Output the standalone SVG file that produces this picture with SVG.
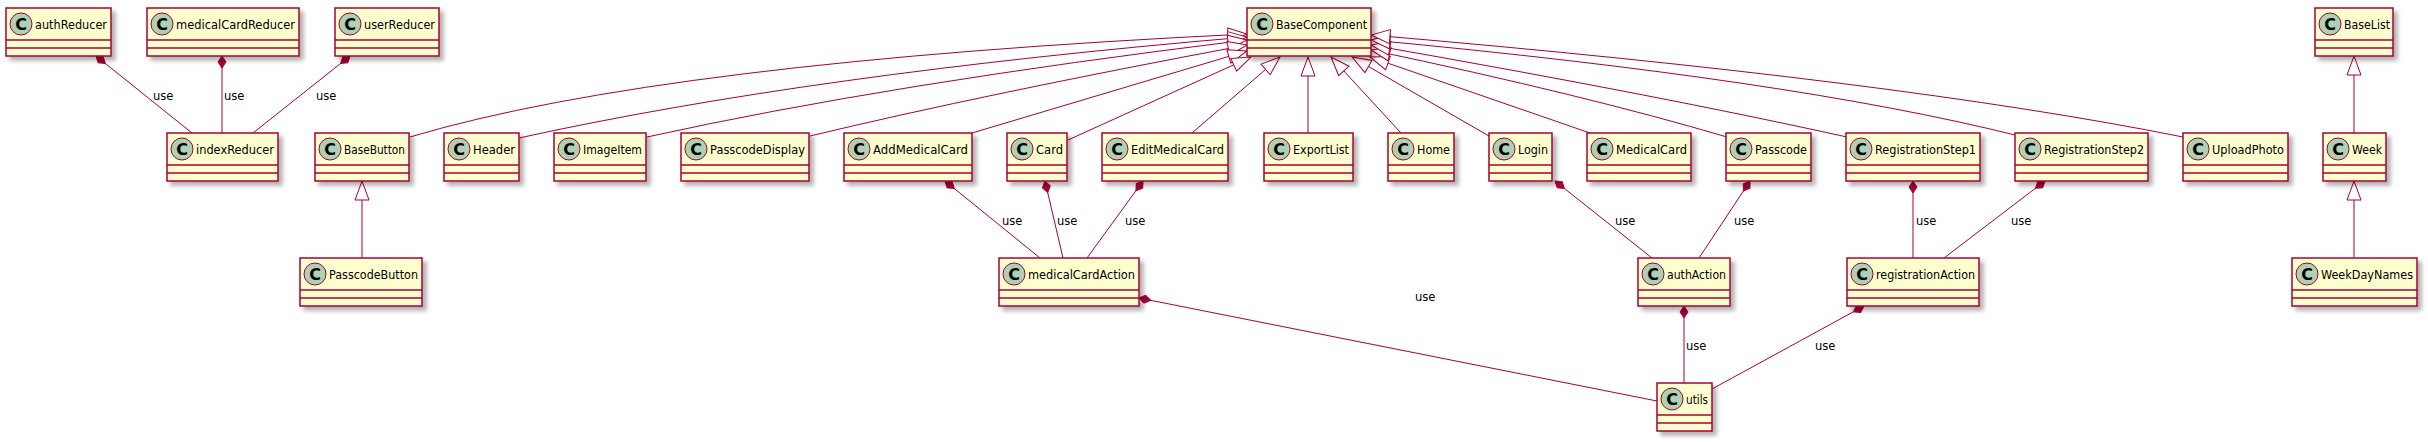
<svg xmlns="http://www.w3.org/2000/svg" width="2428" height="442" viewBox="0 0 2428 442">
<defs>
<style>
.box{fill:#FEFECE;stroke:#A80036;stroke-width:1.5;filter:url(#sh)}
.sep{stroke:#A80036;stroke-width:1.5}
.ci{fill:#ADD1B2;stroke:#A80036;stroke-width:1}
.cl{font-family:"DejaVu Sans",sans-serif;font-size:16px;font-weight:bold;fill:#000;text-anchor:middle}
.nm{font-family:"DejaVu Sans",sans-serif;font-size:11.5px;fill:#000}
.lb{font-family:"DejaVu Sans",sans-serif;font-size:11.5px;fill:#000}
.inh{fill:none;stroke:#A80036;stroke-width:1;marker-end:url(#tri)}
.cmp{fill:none;stroke:#A80036;stroke-width:1;marker-start:url(#dia)}
</style>
<filter id="sh" x="-10%" y="-10%" width="130%" height="140%">
<feDropShadow dx="4" dy="4" stdDeviation="2" flood-color="#000" flood-opacity="0.3"/>
</filter>
<marker id="tri" markerUnits="userSpaceOnUse" viewBox="-1 -9 22 18" refX="19" refY="0" markerWidth="22" markerHeight="18" orient="auto">
<path d="M0,-7 L19,0 L0,7 Z" fill="#FFFFFF" stroke="#A80036" stroke-width="1"/>
</marker>
<marker id="dia" markerUnits="userSpaceOnUse" viewBox="-1 -6 15 12" refX="0" refY="0" markerWidth="15" markerHeight="12" orient="auto">
<path d="M0,0 L6,-4 L12,0 L6,4 Z" fill="#A80036" stroke="#A80036" stroke-width="1"/>
</marker>
</defs>
<rect width="2428" height="442" fill="#FFFFFF"/>

<g id="connectors">
<path class="inh" d="M410,137 Q661,62 1247,34"/>
<path class="inh" d="M519,138 Q810,74 1247,37"/>
<path class="inh" d="M647,137 Q887,84 1247,40"/>
<path class="inh" d="M810,136 Q985,94 1247,45"/>
<path class="inh" d="M972,133 L1247,51"/>
<path class="inh" d="M1068,140 L1251,57"/>
<path class="inh" d="M1192,133 L1280,57"/>
<path class="inh" d="M1308,133 L1308,57"/>
<path class="inh" d="M1401,133 L1331,57"/>
<path class="inh" d="M1489,136 L1352,57"/>
<path class="inh" d="M1590,133 L1370,57"/>
<path class="inh" d="M1727,137 Q1585,95 1371,50"/>
<path class="inh" d="M1847,137 Q1657,95 1371,45"/>
<path class="inh" d="M2015,135 Q1790,79 1371,40"/>
<path class="inh" d="M2183,137 Q1899,80 1371,35"/>
<path class="inh" d="M362,258 L362,181"/>
<path class="inh" d="M2354,133 L2354,56"/>
<path class="inh" d="M2354,258 L2354,181"/>

<path class="cmp" d="M96,56 L192,133"/>
<path class="cmp" d="M222,56 L222,133"/>
<path class="cmp" d="M350,56 L253,133"/>
<path class="cmp" d="M945,181 L1040,258"/>
<path class="cmp" d="M1045,181 L1063,258"/>
<path class="cmp" d="M1143,181 L1087,258"/>
<path class="cmp" d="M1555,181 L1652,258"/>
<path class="cmp" d="M1750,181 L1699,258"/>
<path class="cmp" d="M1913,181 L1913,258"/>
<path class="cmp" d="M2045,181 L1944,258"/>
<path class="cmp" d="M1139,298 L1657,401"/>
<path class="cmp" d="M1684,306 L1684,383"/>
<path class="cmp" d="M1864,306 L1712,389"/>

<text class="lb" x="153" y="100">use</text>
<text class="lb" x="224" y="100">use</text>
<text class="lb" x="316" y="100">use</text>
<text class="lb" x="1002" y="225">use</text>
<text class="lb" x="1057" y="225">use</text>
<text class="lb" x="1125" y="225">use</text>
<text class="lb" x="1615" y="225">use</text>
<text class="lb" x="1734" y="225">use</text>
<text class="lb" x="1916" y="225">use</text>
<text class="lb" x="2011" y="225">use</text>
<text class="lb" x="1415" y="301">use</text>
<text class="lb" x="1686" y="350">use</text>
<text class="lb" x="1815" y="350">use</text>
</g>

<g id="authReducer"><rect class="box" x="6" y="8" width="105" height="48"/><line class="sep" x1="6" y1="40" x2="111" y2="40"/><line class="sep" x1="6" y1="48" x2="111" y2="48"/><circle class="ci" cx="21" cy="24" r="11"/><text class="cl" x="21" y="30">C</text><text class="nm" x="35" y="29" textLength="72" lengthAdjust="spacingAndGlyphs">authReducer</text></g>
<g id="medicalCardReducer"><rect class="box" x="147" y="8" width="152" height="48"/><line class="sep" x1="147" y1="40" x2="299" y2="40"/><line class="sep" x1="147" y1="48" x2="299" y2="48"/><circle class="ci" cx="162" cy="24" r="11"/><text class="cl" x="162" y="30">C</text><text class="nm" x="176" y="29" textLength="119" lengthAdjust="spacingAndGlyphs">medicalCardReducer</text></g>
<g id="userReducer"><rect class="box" x="335" y="8" width="104" height="48"/><line class="sep" x1="335" y1="40" x2="439" y2="40"/><line class="sep" x1="335" y1="48" x2="439" y2="48"/><circle class="ci" cx="350" cy="24" r="11"/><text class="cl" x="350" y="30">C</text><text class="nm" x="364" y="29" textLength="71" lengthAdjust="spacingAndGlyphs">userReducer</text></g>
<g id="BaseComponent"><rect class="box" x="1247" y="8" width="124" height="48"/><line class="sep" x1="1247" y1="40" x2="1371" y2="40"/><line class="sep" x1="1247" y1="48" x2="1371" y2="48"/><circle class="ci" cx="1262" cy="24" r="11"/><text class="cl" x="1262" y="30">C</text><text class="nm" x="1276" y="29" textLength="91" lengthAdjust="spacingAndGlyphs">BaseComponent</text></g>
<g id="BaseList"><rect class="box" x="2315" y="8" width="78" height="48"/><line class="sep" x1="2315" y1="40" x2="2393" y2="40"/><line class="sep" x1="2315" y1="48" x2="2393" y2="48"/><circle class="ci" cx="2330" cy="24" r="11"/><text class="cl" x="2330" y="30">C</text><text class="nm" x="2344" y="29" textLength="46" lengthAdjust="spacingAndGlyphs">BaseList</text></g>

<g id="indexReducer"><rect class="box" x="167" y="133" width="111" height="48"/><line class="sep" x1="167" y1="165" x2="278" y2="165"/><line class="sep" x1="167" y1="173" x2="278" y2="173"/><circle class="ci" cx="182" cy="149" r="11"/><text class="cl" x="182" y="155">C</text><text class="nm" x="196" y="154" textLength="78" lengthAdjust="spacingAndGlyphs">indexReducer</text></g>
<g id="BaseButton"><rect class="box" x="315" y="133" width="94" height="48"/><line class="sep" x1="315" y1="165" x2="409" y2="165"/><line class="sep" x1="315" y1="173" x2="409" y2="173"/><circle class="ci" cx="330" cy="149" r="11"/><text class="cl" x="330" y="155">C</text><text class="nm" x="344" y="154" textLength="61" lengthAdjust="spacingAndGlyphs">BaseButton</text></g>
<g id="Header"><rect class="box" x="444" y="133" width="75" height="48"/><line class="sep" x1="444" y1="165" x2="519" y2="165"/><line class="sep" x1="444" y1="173" x2="519" y2="173"/><circle class="ci" cx="459" cy="149" r="11"/><text class="cl" x="459" y="155">C</text><text class="nm" x="473" y="154" textLength="42" lengthAdjust="spacingAndGlyphs">Header</text></g>
<g id="ImageItem"><rect class="box" x="554" y="133" width="92" height="48"/><line class="sep" x1="554" y1="165" x2="646" y2="165"/><line class="sep" x1="554" y1="173" x2="646" y2="173"/><circle class="ci" cx="569" cy="149" r="11"/><text class="cl" x="569" y="155">C</text><text class="nm" x="583" y="154" textLength="59" lengthAdjust="spacingAndGlyphs">ImageItem</text></g>
<g id="PasscodeDisplay"><rect class="box" x="681" y="133" width="128" height="48"/><line class="sep" x1="681" y1="165" x2="809" y2="165"/><line class="sep" x1="681" y1="173" x2="809" y2="173"/><circle class="ci" cx="696" cy="149" r="11"/><text class="cl" x="696" y="155">C</text><text class="nm" x="710" y="154" textLength="95" lengthAdjust="spacingAndGlyphs">PasscodeDisplay</text></g>
<g id="AddMedicalCard"><rect class="box" x="844" y="133" width="128" height="48"/><line class="sep" x1="844" y1="165" x2="972" y2="165"/><line class="sep" x1="844" y1="173" x2="972" y2="173"/><circle class="ci" cx="859" cy="149" r="11"/><text class="cl" x="859" y="155">C</text><text class="nm" x="873" y="154" textLength="95" lengthAdjust="spacingAndGlyphs">AddMedicalCard</text></g>
<g id="Card"><rect class="box" x="1007" y="133" width="60" height="48"/><line class="sep" x1="1007" y1="165" x2="1067" y2="165"/><line class="sep" x1="1007" y1="173" x2="1067" y2="173"/><circle class="ci" cx="1022" cy="149" r="11"/><text class="cl" x="1022" y="155">C</text><text class="nm" x="1036" y="154" textLength="27" lengthAdjust="spacingAndGlyphs">Card</text></g>
<g id="EditMedicalCard"><rect class="box" x="1102" y="133" width="126" height="48"/><line class="sep" x1="1102" y1="165" x2="1228" y2="165"/><line class="sep" x1="1102" y1="173" x2="1228" y2="173"/><circle class="ci" cx="1117" cy="149" r="11"/><text class="cl" x="1117" y="155">C</text><text class="nm" x="1131" y="154" textLength="93" lengthAdjust="spacingAndGlyphs">EditMedicalCard</text></g>
<g id="ExportList"><rect class="box" x="1264" y="133" width="89" height="48"/><line class="sep" x1="1264" y1="165" x2="1353" y2="165"/><line class="sep" x1="1264" y1="173" x2="1353" y2="173"/><circle class="ci" cx="1279" cy="149" r="11"/><text class="cl" x="1279" y="155">C</text><text class="nm" x="1293" y="154" textLength="56" lengthAdjust="spacingAndGlyphs">ExportList</text></g>
<g id="Home"><rect class="box" x="1388" y="133" width="66" height="48"/><line class="sep" x1="1388" y1="165" x2="1454" y2="165"/><line class="sep" x1="1388" y1="173" x2="1454" y2="173"/><circle class="ci" cx="1403" cy="149" r="11"/><text class="cl" x="1403" y="155">C</text><text class="nm" x="1417" y="154" textLength="33" lengthAdjust="spacingAndGlyphs">Home</text></g>
<g id="Login"><rect class="box" x="1489" y="133" width="63" height="48"/><line class="sep" x1="1489" y1="165" x2="1552" y2="165"/><line class="sep" x1="1489" y1="173" x2="1552" y2="173"/><circle class="ci" cx="1504" cy="149" r="11"/><text class="cl" x="1504" y="155">C</text><text class="nm" x="1518" y="154" textLength="30" lengthAdjust="spacingAndGlyphs">Login</text></g>
<g id="MedicalCard"><rect class="box" x="1587" y="133" width="104" height="48"/><line class="sep" x1="1587" y1="165" x2="1691" y2="165"/><line class="sep" x1="1587" y1="173" x2="1691" y2="173"/><circle class="ci" cx="1602" cy="149" r="11"/><text class="cl" x="1602" y="155">C</text><text class="nm" x="1616" y="154" textLength="71" lengthAdjust="spacingAndGlyphs">MedicalCard</text></g>
<g id="Passcode"><rect class="box" x="1726" y="133" width="85" height="48"/><line class="sep" x1="1726" y1="165" x2="1811" y2="165"/><line class="sep" x1="1726" y1="173" x2="1811" y2="173"/><circle class="ci" cx="1741" cy="149" r="11"/><text class="cl" x="1741" y="155">C</text><text class="nm" x="1755" y="154" textLength="52" lengthAdjust="spacingAndGlyphs">Passcode</text></g>
<g id="RegistrationStep1"><rect class="box" x="1846" y="133" width="134" height="48"/><line class="sep" x1="1846" y1="165" x2="1980" y2="165"/><line class="sep" x1="1846" y1="173" x2="1980" y2="173"/><circle class="ci" cx="1861" cy="149" r="11"/><text class="cl" x="1861" y="155">C</text><text class="nm" x="1875" y="154" textLength="101" lengthAdjust="spacingAndGlyphs">RegistrationStep1</text></g>
<g id="RegistrationStep2"><rect class="box" x="2015" y="133" width="133" height="48"/><line class="sep" x1="2015" y1="165" x2="2148" y2="165"/><line class="sep" x1="2015" y1="173" x2="2148" y2="173"/><circle class="ci" cx="2030" cy="149" r="11"/><text class="cl" x="2030" y="155">C</text><text class="nm" x="2044" y="154" textLength="100" lengthAdjust="spacingAndGlyphs">RegistrationStep2</text></g>
<g id="UploadPhoto"><rect class="box" x="2183" y="133" width="105" height="48"/><line class="sep" x1="2183" y1="165" x2="2288" y2="165"/><line class="sep" x1="2183" y1="173" x2="2288" y2="173"/><circle class="ci" cx="2198" cy="149" r="11"/><text class="cl" x="2198" y="155">C</text><text class="nm" x="2212" y="154" textLength="72" lengthAdjust="spacingAndGlyphs">UploadPhoto</text></g>
<g id="Week"><rect class="box" x="2323" y="133" width="63" height="48"/><line class="sep" x1="2323" y1="165" x2="2386" y2="165"/><line class="sep" x1="2323" y1="173" x2="2386" y2="173"/><circle class="ci" cx="2338" cy="149" r="11"/><text class="cl" x="2338" y="155">C</text><text class="nm" x="2352" y="154" textLength="30" lengthAdjust="spacingAndGlyphs">Week</text></g>

<g id="PasscodeButton"><rect class="box" x="300" y="258" width="122" height="48"/><line class="sep" x1="300" y1="290" x2="422" y2="290"/><line class="sep" x1="300" y1="298" x2="422" y2="298"/><circle class="ci" cx="315" cy="274" r="11"/><text class="cl" x="315" y="280">C</text><text class="nm" x="329" y="279" textLength="89" lengthAdjust="spacingAndGlyphs">PasscodeButton</text></g>
<g id="medicalCardAction"><rect class="box" x="999" y="258" width="140" height="48"/><line class="sep" x1="999" y1="290" x2="1139" y2="290"/><line class="sep" x1="999" y1="298" x2="1139" y2="298"/><circle class="ci" cx="1014" cy="274" r="11"/><text class="cl" x="1014" y="280">C</text><text class="nm" x="1028" y="279" textLength="107" lengthAdjust="spacingAndGlyphs">medicalCardAction</text></g>
<g id="authAction"><rect class="box" x="1638" y="258" width="92" height="48"/><line class="sep" x1="1638" y1="290" x2="1730" y2="290"/><line class="sep" x1="1638" y1="298" x2="1730" y2="298"/><circle class="ci" cx="1653" cy="274" r="11"/><text class="cl" x="1653" y="280">C</text><text class="nm" x="1667" y="279" textLength="59" lengthAdjust="spacingAndGlyphs">authAction</text></g>
<g id="registrationAction"><rect class="box" x="1847" y="258" width="132" height="48"/><line class="sep" x1="1847" y1="290" x2="1979" y2="290"/><line class="sep" x1="1847" y1="298" x2="1979" y2="298"/><circle class="ci" cx="1862" cy="274" r="11"/><text class="cl" x="1862" y="280">C</text><text class="nm" x="1876" y="279" textLength="99" lengthAdjust="spacingAndGlyphs">registrationAction</text></g>
<g id="WeekDayNames"><rect class="box" x="2292" y="258" width="125" height="48"/><line class="sep" x1="2292" y1="290" x2="2417" y2="290"/><line class="sep" x1="2292" y1="298" x2="2417" y2="298"/><circle class="ci" cx="2307" cy="274" r="11"/><text class="cl" x="2307" y="280">C</text><text class="nm" x="2321" y="279" textLength="92" lengthAdjust="spacingAndGlyphs">WeekDayNames</text></g>

<g id="utils"><rect class="box" x="1657" y="383" width="55" height="48"/><line class="sep" x1="1657" y1="415" x2="1712" y2="415"/><line class="sep" x1="1657" y1="423" x2="1712" y2="423"/><circle class="ci" cx="1672" cy="399" r="11"/><text class="cl" x="1672" y="405">C</text><text class="nm" x="1686" y="404" textLength="22" lengthAdjust="spacingAndGlyphs">utils</text></g>
</svg>
